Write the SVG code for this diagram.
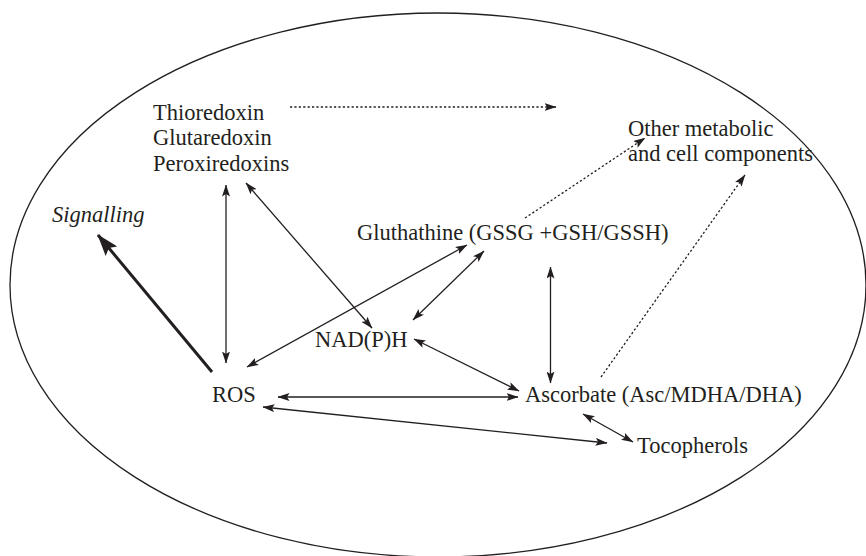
<svg xmlns="http://www.w3.org/2000/svg" width="866" height="556" viewBox="0 0 866 556">
<defs>
<style>
.t{font-family:"Liberation Serif","Times New Roman",serif;font-size:22.5px;fill:#231f20}
.i{font-style:italic}
.c{stroke:#231f20;stroke-width:1.3;fill:none}
.d{stroke:#231f20;stroke-width:1.3;fill:none;stroke-dasharray:2.2 2.2}
.th{stroke:#231f20;stroke-width:3;fill:none}
</style>
<marker id="a" viewBox="0 0 12 8" refX="11.5" refY="4" markerWidth="12" markerHeight="8" markerUnits="userSpaceOnUse" orient="auto-start-reverse">
<path d="M0,0 L12,4 L0,8 L2.5,4 z" fill="#231f20"/>
</marker>
<marker id="b" viewBox="0 0 22 15" refX="21" refY="7.5" markerWidth="22" markerHeight="15" markerUnits="userSpaceOnUse" orient="auto">
<path d="M0,0 L22,7.5 L0,15 L4,7.5 z" fill="#231f20"/>
</marker>
</defs>
<ellipse cx="438" cy="285" rx="428" ry="272" class="c"/>
<g id="connectors">
<line class="d" x1="290" y1="107" x2="556" y2="107" marker-end="url(#a)"/>
<line class="d" x1="525" y1="218" x2="645" y2="138" marker-end="url(#a)"/>
<line class="d" x1="601" y1="377" x2="745" y2="175" marker-end="url(#a)"/>
<line class="th" x1="212" y1="372" x2="98" y2="235" marker-end="url(#b)"/>
<line class="c" x1="226" y1="363" x2="226" y2="185" marker-start="url(#a)" marker-end="url(#a)"/>
<line class="c" x1="372" y1="328" x2="246" y2="183" marker-start="url(#a)" marker-end="url(#a)"/>
<line class="c" x1="247" y1="367" x2="467" y2="245" marker-start="url(#a)" marker-end="url(#a)"/>
<line class="c" x1="413" y1="320" x2="484" y2="251" marker-start="url(#a)" marker-end="url(#a)"/>
<line class="c" x1="550.5" y1="383" x2="550.5" y2="267" marker-start="url(#a)" marker-end="url(#a)"/>
<line class="c" x1="414" y1="339" x2="519" y2="391" marker-start="url(#a)" marker-end="url(#a)"/>
<line class="c" x1="278" y1="397" x2="518" y2="397" marker-start="url(#a)" marker-end="url(#a)"/>
<line class="c" x1="263" y1="407" x2="607" y2="443" marker-start="url(#a)" marker-end="url(#a)"/>
<line class="c" x1="583" y1="414" x2="633" y2="442" marker-start="url(#a)" marker-end="url(#a)"/>
</g>
<g id="thioredoxins">
<text class="t" x="153" y="120">Thioredoxin</text>
<text class="t" x="153" y="145">Glutaredoxin</text>
<text class="t" x="153" y="171">Peroxiredoxins</text>
</g>
<g id="other">
<text class="t" x="628" y="136">Other metabolic</text>
<text class="t" x="628" y="161">and cell components</text>
</g>
<g id="signalling"><text class="t i" x="52" y="222">Signalling</text></g>
<g id="glutathione"><text class="t" x="357" y="240">Gluthathine (GSSG +GSH/GSSH)</text></g>
<g id="nadph"><text class="t" x="315" y="347">NAD(P)H</text></g>
<g id="ros"><text class="t" x="212" y="402">ROS</text></g>
<g id="ascorbate"><text class="t" x="525" y="402">Ascorbate (Asc/MDHA/DHA)</text></g>
<g id="tocopherols"><text class="t" x="637" y="453">Tocopherols</text></g>
</svg>
